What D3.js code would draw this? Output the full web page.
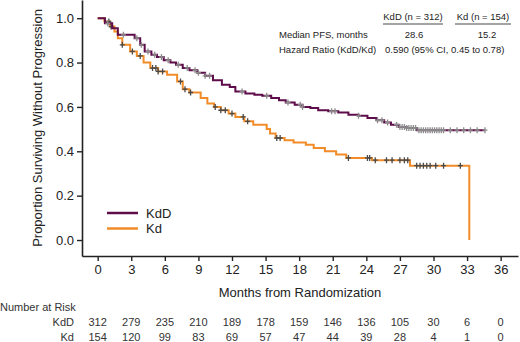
<!DOCTYPE html>
<html>
<head>
<meta charset="utf-8">
<script src="https://cdn.jsdelivr.net/npm/d3@7"></script>
<style>
  body { margin: 0; background: #fff; }
  text { font-family: Arial, "Liberation Sans", sans-serif; }
</style>
</head>
<body>
<div id="chart"></div>
<script>
// ---- data ----
var months = [0, 3, 6, 9, 12, 15, 18, 21, 24, 27, 30, 33, 36];
var kddAtRisk = [312, 279, 235, 210, 189, 178, 159, 146, 136, 105, 30, 6, 0];
var kdAtRisk = [154, 120, 99, 83, 69, 57, 47, 44, 39, 28, 4, 1, 0];

var kddTimes = [0, 0.65, 1.3, 1.8, 3.3, 3.8, 4.2, 4.8, 5.3, 5.9, 6.5, 7.0, 7.6, 8.2, 8.9, 9.6, 10.3, 11.1, 11.8, 12.3,
  13.2, 14.0, 14.7, 15.5, 16.2, 16.8, 17.6, 18.3, 19.0, 19.7, 20.6, 21.5, 22.4, 23.3, 24.1, 24.9, 25.6, 26.2, 26.9, 27.6, 28.5];
var kddSurv = [1.0, 0.977, 0.955, 0.925, 0.91, 0.88, 0.85, 0.835, 0.825, 0.81, 0.80, 0.79, 0.776, 0.765, 0.754, 0.74, 0.72, 0.70, 0.69, 0.67,
  0.66, 0.655, 0.65, 0.64, 0.63, 0.62, 0.61, 0.60, 0.595, 0.585, 0.58, 0.575, 0.565, 0.56, 0.55, 0.54, 0.53, 0.52, 0.51, 0.505, 0.495];
var kddEnd = 34.6;
var kddCensor = [0.9, 2.3, 3.5, 3.9, 4.5, 5.1, 5.7, 6.3, 7.2, 8.0, 8.7, 9.0, 9.6, 10.0, 12.9, 15.1, 17.0, 18.1, 18.3,
  20.9, 21.2, 23.3, 25.0, 25.4, 25.9, 26.7, 27.0, 27.2, 27.4, 27.6, 27.8, 28.0, 28.2, 28.4, 28.7, 28.9, 29.1, 29.3,
  29.5, 29.7, 29.9, 30.1, 30.3, 30.5, 30.7, 30.9, 31.5, 32.1, 32.7, 33.3, 33.9, 34.6];

var kdTimes = [0, 0.6, 1.1, 1.5, 1.8, 2.2, 2.9, 3.5, 4.1, 4.7, 5.4, 6.2, 7.1, 7.6, 8.2, 9.2, 9.8, 10.4, 11.0, 11.7,
  12.3, 13.1, 13.9, 15.1, 15.4, 15.9, 16.7, 17.5, 18.6, 19.3, 20.3, 21.3, 22.2, 24.5, 27.9, 33.2];
var kdSurv = [1.0, 0.985, 0.962, 0.94, 0.91, 0.88, 0.85, 0.83, 0.80, 0.775, 0.76, 0.745, 0.715, 0.68, 0.665, 0.64, 0.615, 0.60, 0.585, 0.57,
  0.555, 0.535, 0.52, 0.50, 0.48, 0.46, 0.45, 0.44, 0.43, 0.415, 0.40, 0.385, 0.37, 0.36, 0.335, 0.0];
var kdEnd = 33.2;
var kdCensor = [1.0, 1.2, 2.2, 3.1, 3.8, 4.9, 5.2, 5.4, 5.8, 7.4, 7.8, 8.3, 10.5, 11.0, 11.4, 12.0, 13.0, 13.4, 16.0, 16.3,
  22.4, 24.1, 24.3, 24.8, 25.8, 26.3, 27.0, 27.4, 27.7, 28.5, 28.8, 29.1, 29.4, 29.7, 30.2, 30.9, 32.4];

var yTicks = [0, 0.2, 0.4, 0.6, 0.8, 1.0];

var width = 520, height = 342;

var svg = d3.select("#chart").append("svg")
    .attr("width", width)
    .attr("height", height)
    .style("background-color", "white");

// scales
var x = d3.scaleLinear().domain([-1.40, 37.55]).range([82, 518]);
var y = d3.scaleLinear().domain([-0.072, 1.082]).range([256, 0]);

// axes
var xAxis = svg.append("g")
    .attr("transform", "translate(0,256)")
    .call(d3.axisBottom(x).tickValues(months).tickSize(5).tickSizeOuter(0).tickPadding(4));
var yAxis = svg.append("g")
    .attr("transform", "translate(82,0)")
    .call(d3.axisLeft(y).tickValues(yTicks).tickFormat(d3.format(".1f")).tickSize(5).tickSizeOuter(0).tickPadding(3));

[xAxis, yAxis].forEach(function(a) {
    a.select(".domain").attr("stroke", "#222").attr("stroke-width", 1.6);
    a.selectAll(".tick line").attr("stroke", "#222").attr("stroke-width", 1.4);
    a.selectAll(".tick text").attr("fill", "#222").style("font-size", "13px");
});

// axis titles
svg.append("text")
    .attr("x", 300).attr("y", 297)
    .attr("text-anchor", "middle")
    .style("font-size", "13px").attr("fill", "#222")
    .text("Months from Randomization");
svg.append("text")
    .attr("transform", "translate(42,128) rotate(-90)")
    .attr("text-anchor", "middle")
    .style("font-size", "13px").attr("fill", "#222")
    .text("Proportion Surviving Without Progression");

// step curves
function stepPoints(times, surv, end) {
    var pts = times.map(function(t, i) { return [t, surv[i]]; });
    pts.push([end, surv[surv.length - 1]]);
    return pts;
}
function survAt(times, surv, t) {
    var i = d3.bisectRight(times, t) - 1;
    return surv[Math.max(0, i)];
}

var line = d3.line()
    .x(function(d) { return x(d[0]); })
    .y(function(d) { return y(d[1]); })
    .curve(d3.curveStepAfter);

var arms = [
    { name: "Kd", times: kdTimes, surv: kdSurv, end: kdEnd, censor: kdCensor, color: "#f28c28", mark: "#4a4a4a" },
    { name: "KdD", times: kddTimes, surv: kddSurv, end: kddEnd, censor: kddCensor, color: "#5e0c4a", mark: "#8c8c8c" }
];

arms.forEach(function(a) {
    svg.append("path")
        .datum(stepPoints(a.times, a.surv, a.end))
        .attr("fill", "none")
        .attr("stroke", a.color)
        .attr("stroke-width", 2)
        .attr("d", line);

    var g = svg.append("g");
    g.selectAll("path")
        .data(a.censor)
        .enter()
        .append("path")
            .attr("transform", function(t) {
                return "translate(" + x(t) + "," + y(survAt(a.times, a.surv, t)) + ")";
            })
            .attr("d", "M-2.5,0H2.5M0,-3V3")
            .attr("stroke", a.mark)
            .attr("stroke-width", 1.3);
});

// legend
var legend = [
    { name: "KdD", color: "#5e0c4a", yy: 213 },
    { name: "Kd", color: "#f28c28", yy: 228.5 }
];
legend.forEach(function(l) {
    svg.append("line")
        .attr("x1", 107).attr("x2", 138)
        .attr("y1", l.yy).attr("y2", l.yy)
        .attr("stroke", l.color).attr("stroke-width", 2.5);
    svg.append("text")
        .attr("x", 146).attr("y", l.yy + 4.5)
        .style("font-size", "13px").attr("fill", "#222")
        .text(l.name);
});

// median / hazard ratio table
var tbl = svg.append("g").style("font-size", "9.5px").attr("fill", "#222");
tbl.append("text").attr("x", 413).attr("y", 20).attr("text-anchor", "middle").text("KdD (n = 312)");
tbl.append("text").attr("x", 483).attr("y", 20).attr("text-anchor", "middle").text("Kd (n = 154)");
svg.append("line").attr("x1", 383).attr("x2", 443).attr("y1", 24).attr("y2", 24).attr("stroke", "#333").attr("stroke-width", 0.9);
svg.append("line").attr("x1", 455).attr("x2", 511).attr("y1", 24).attr("y2", 24).attr("stroke", "#333").attr("stroke-width", 0.9);
tbl.append("text").attr("x", 279).attr("y", 37.5).text("Median PFS, months");
tbl.append("text").attr("x", 414).attr("y", 37.5).attr("text-anchor", "middle").text("28.6");
tbl.append("text").attr("x", 487).attr("y", 37.5).attr("text-anchor", "middle").text("15.2");
tbl.append("text").attr("x", 279).attr("y", 52.5).text("Hazard Ratio (KdD/Kd)");
tbl.append("text").attr("x", 385).attr("y", 52.5).text("0.590 (95% CI, 0.45 to 0.78)");

// number at risk
svg.append("text")
    .attr("x", 0).attr("y", 310.5)
    .style("font-size", "11px").attr("fill", "#333")
    .text("Number at Risk");

var riskRows = [
    { name: "KdD", values: kddAtRisk, yy: 325.5 },
    { name: "Kd", values: kdAtRisk, yy: 340.5 }
];
riskRows.forEach(function(r) {
    svg.append("text")
        .attr("x", 74).attr("y", r.yy)
        .attr("text-anchor", "end")
        .style("font-size", "11px").attr("fill", "#333")
        .text(r.name);
    svg.append("g").selectAll("text")
        .data(r.values)
        .enter()
        .append("text")
            .attr("x", function(d, i) { return x(months[i]); })
            .attr("y", r.yy)
            .attr("text-anchor", "middle")
            .style("font-size", "11px").attr("fill", "#333")
            .text(function(d) { return d; });
});
</script>
</body>
</html>
